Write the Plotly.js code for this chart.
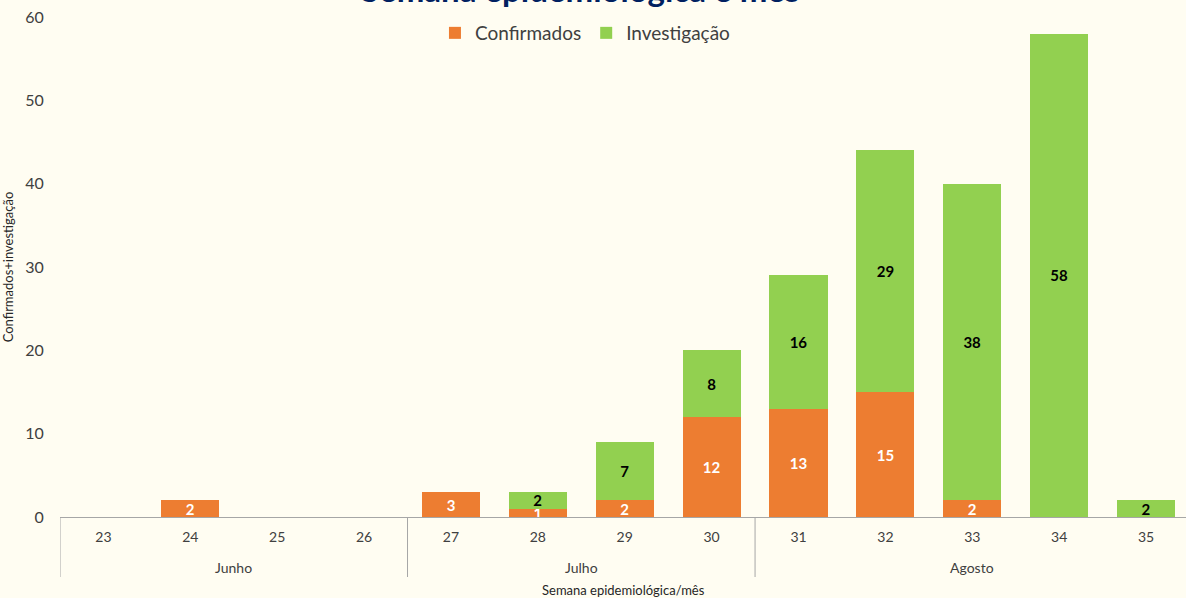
<!DOCTYPE html>
<html>
<head>
<meta charset="utf-8">
<script src="https://cdn.plot.ly/plotly-3.0.1.min.js"></script>
<style>html,body{margin:0;padding:0;overflow:hidden;background:#FFFDF2;}</style>
</head>
<body>
<div id="chart" style="width:1186px;height:598px;"></div>
<script>
const weeks = ["23","24","25","26","27","28","29","30","31","32","33","34","35"];
const months = ["Junho","Julho","Agosto"];
const monthOfWeek = ["Junho","Junho","Junho","Junho","Julho","Julho","Julho","Julho","Agosto","Agosto","Agosto","Agosto","Agosto"];
const confirmados = [0,2,0,0,3,1,2,12,13,15,2,0,0];
const investigacao = [0,0,0,0,0,2,7,8,16,29,38,58,2];

const FONT = "Lato, 'Open Sans', sans-serif";
const idx = weeks.map((w,i)=>i);
const lbl = arr => arr.map(v => v ? String(v) : "");

const traces = [
  {type:"bar", name:"Confirmados", x:idx, y:confirmados, text:lbl(confirmados),
   marker:{color:"#ED7D31"}, textposition:"inside", insidetextanchor:"middle", textangle:0,
   constraintext:"none", textfont:{family:FONT, size:15, color:"#FFFFFF", weight:"bold"},
   hoverinfo:"x+y"},
  {type:"bar", name:"Investigação", x:idx, y:investigacao, text:lbl(investigacao),
   marker:{color:"#92D050"}, textposition:"inside", insidetextanchor:"middle", textangle:0,
   constraintext:"none", textfont:{family:FONT, size:15, color:"#000000", weight:"bold"},
   hoverinfo:"x+y"}
];

const annotations = [];
const shapes = [];
months.forEach(m => {
  const ids = idx.filter(i => monthOfWeek[i] === m);
  const first = ids[0], last = ids[ids.length-1];
  annotations.push({x:(first+last)/2, xref:"x", y:-0.1, yref:"paper", yanchor:"middle",
    text:m, showarrow:false, font:{family:FONT, size:14, color:"#404040"}});
  shapes.push({type:"line", xref:"x", yref:"paper", x0:first-0.5, x1:first-0.5, y0:0, y1:-0.12,
    line:{color:"#A6A6A6", width:1}});
});
annotations.push({x:0.4618, xref:"paper", y:1.012, yref:"paper", yanchor:"bottom", xanchor:"center",
  text:"Semana epidemiológica e mês", showarrow:false,
  font:{family:FONT, size:33, color:"#002060", weight:"bold"}});
annotations.push({x:0.5, xref:"paper", y:-0.146, yref:"paper", yanchor:"middle",
  text:"Semana epidemiológica/mês", showarrow:false, font:{family:FONT, size:13, color:"#262626"}});

const layout = {
  width:1186, height:598,
  margin:{l:60, r:0, t:17, b:81},
  paper_bgcolor:"#FFFDF2", plot_bgcolor:"#FFFDF2",
  barmode:"stack", bargap:0.33,
  showlegend:true,
  legend:{orientation:"h", x:0.333, xanchor:"left", y:0.968, yanchor:"middle",
    font:{family:FONT, size:19, color:"#404040"}, bgcolor:"rgba(0,0,0,0)", traceorder:"normal",
    itemwidth:30},
  xaxis:{range:[-0.5,12.46], tickvals:idx, ticktext:weeks, showgrid:false, zeroline:false,
    showline:true, linecolor:"#A6A6A6", linewidth:1, ticks:"outside", ticklen:7,
    tickcolor:"rgba(0,0,0,0)", tickfont:{family:FONT, size:14, color:"#404040"}, fixedrange:true},
  yaxis:{range:[0,60], dtick:10, showgrid:false, zeroline:false, showline:false,
    tickfont:{family:FONT, size:16, color:"#404040"}, ticks:"outside", ticklen:12,
    tickcolor:"rgba(0,0,0,0)",
    title:{text:"Confirmados+investigação", font:{family:FONT, size:13, color:"#262626"}, standoff:13},
    fixedrange:true},
  annotations:annotations, shapes:shapes
};
Plotly.newPlot("chart", traces, layout, {displayModeBar:false, staticPlot:true});
</script>
</body>
</html>
